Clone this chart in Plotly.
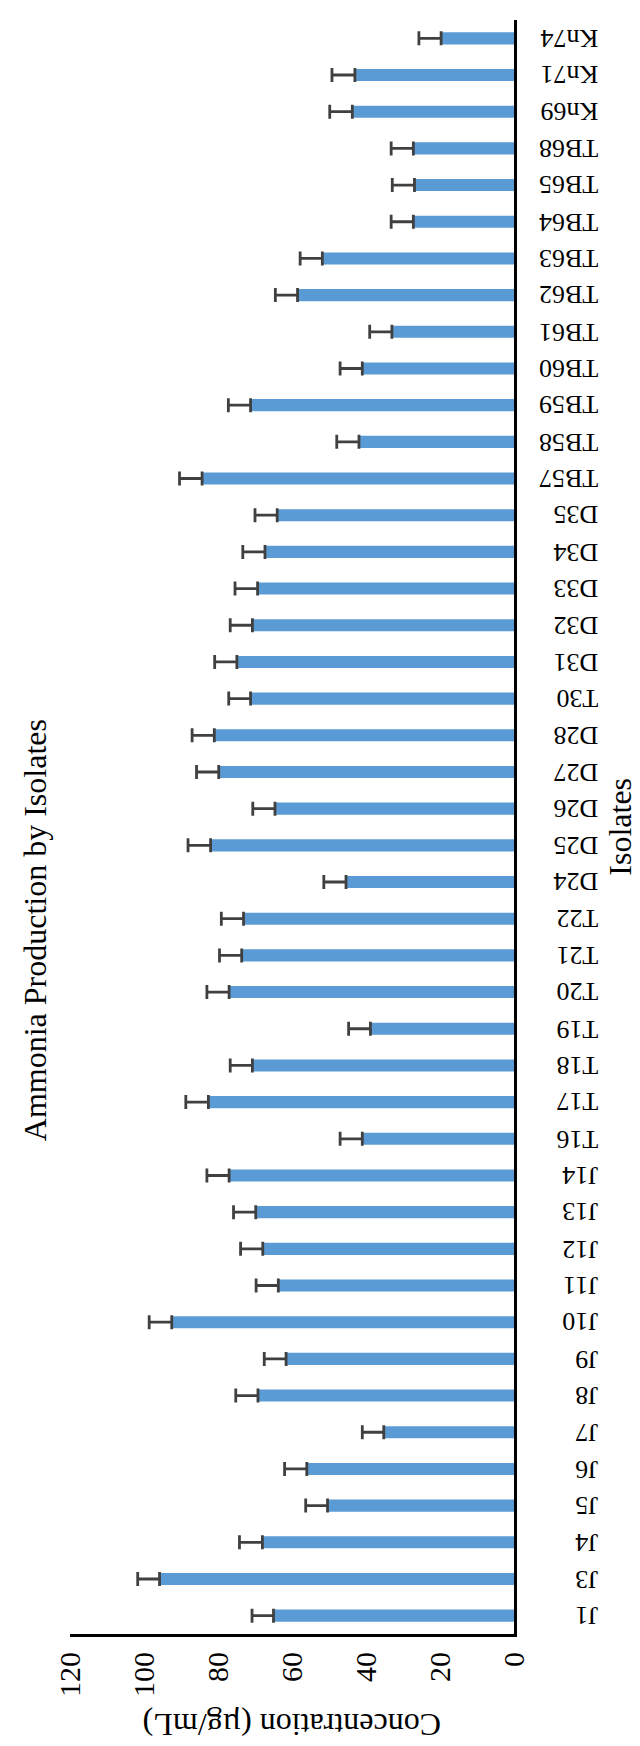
import plotly.graph_objects as go

isolates = ["J1", "J3", "J4", "J5", "J6", "J7", "J8", "J9", "J10", "J11", "J12", "J13", "J14",
            "T16", "T17", "T18", "T19", "T20", "T21", "T22",
            "D24", "D25", "D26", "D27", "D28", "T30",
            "D31", "D32", "D33", "D34", "D35",
            "TB57", "TB58", "TB59", "TB60", "TB61", "TB62", "TB63", "TB64", "TB65", "TB68",
            "Kn69", "Kn71", "Kn74"]
concentration = [65.0, 95.8, 68.0, 50.4, 56.0, 35.2, 69.2, 61.6, 92.5, 63.7, 67.9, 69.8, 77.0,
                 41.0, 82.6, 70.7, 38.8, 77.0, 73.6, 73.1,
                 45.4, 82.0, 64.6, 79.8, 81.0, 71.2,
                 74.9, 70.7, 69.3, 67.3, 64.0,
                 84.3, 41.9, 71.2, 41.0, 33.0, 58.5, 51.8, 27.2, 26.9, 27.2,
                 43.7, 43.0, 19.7]
error = [5.8, 5.9, 6.2, 5.9, 6.0, 5.8, 6.0, 5.9, 6.1, 6.0, 6.0, 6.0, 6.0,
         6.0, 6.1, 6.0, 5.9, 6.0, 6.0, 6.0,
         6.0, 6.1, 6.0, 6.0, 6.0, 5.9,
         6.0, 6.0, 6.1, 6.0, 6.0,
         6.1, 6.0, 6.0, 6.0, 6.0, 6.0, 6.0, 6.0, 6.0, 6.0,
         6.1, 6.2, 6.0]
value_ticks = [0, 20, 40, 60, 80, 100, 120]

FONT = "Liberation Serif, Times New Roman, serif"

fig = go.Figure()
fig.add_trace(go.Bar(
    x=concentration, y=isolates, orientation="h",
    marker=dict(color="#5B9BD5", line=dict(width=0)),
    error_x=dict(type="data", array=error, symmetric=False,
                 arrayminus=[0] * len(error),
                 color="#404040", thickness=2.8, width=7),
))

annotations = []
for name in isolates:
    annotations.append(dict(
        x=1.194, xref="paper", y=name, yref="y", text=name,
        textangle=180, xanchor="right", yanchor="middle", showarrow=False,
        font=dict(family=FONT, size=26, color="#000000"),
    ))
annotations.append(dict(
    x=0.5, xref="paper", y=-0.056, yref="paper", text="Concentration (µg/mL)",
    textangle=180, xanchor="center", yanchor="middle", showarrow=False,
    font=dict(family=FONT, size=32, color="#000000"),
))
annotations.append(dict(
    x=-0.079, xref="paper", y=0.436, yref="paper", text="Ammonia Production by Isolates",
    textangle=-90, xanchor="center", yanchor="middle", showarrow=False,
    font=dict(family=FONT, size=32, color="#000000"),
))
annotations.append(dict(
    x=1.238, xref="paper", y=0.5, yref="paper", text="Isolates",
    textangle=-90, xanchor="center", yanchor="middle", showarrow=False,
    font=dict(family=FONT, size=32, color="#000000"),
))

fig.update_layout(
    width=640, height=1746,
    margin=dict(l=62, r=134, t=12, b=120),
    paper_bgcolor="white", plot_bgcolor="white",
    showlegend=False, bargap=0.67,
    annotations=annotations,
    font=dict(family=FONT, color="#000000"),
    xaxis=dict(
        range=[120, 0], tickvals=value_ticks, ticktext=[str(v) for v in value_ticks],
        tickangle=-90, showgrid=False, zeroline=False,
        showline=True, linecolor="black", linewidth=3,
        ticks="", ticklabelstandoff=3,
        tickfont=dict(family=FONT, size=30, color="#000000"),
    ),
    yaxis=dict(
        side="right", showgrid=False, zeroline=False,
        showline=True, linecolor="black", linewidth=3,
        showticklabels=False, ticks="",
        categoryorder="array", categoryarray=isolates,
    ),
)

fig.write_html("out.html")
